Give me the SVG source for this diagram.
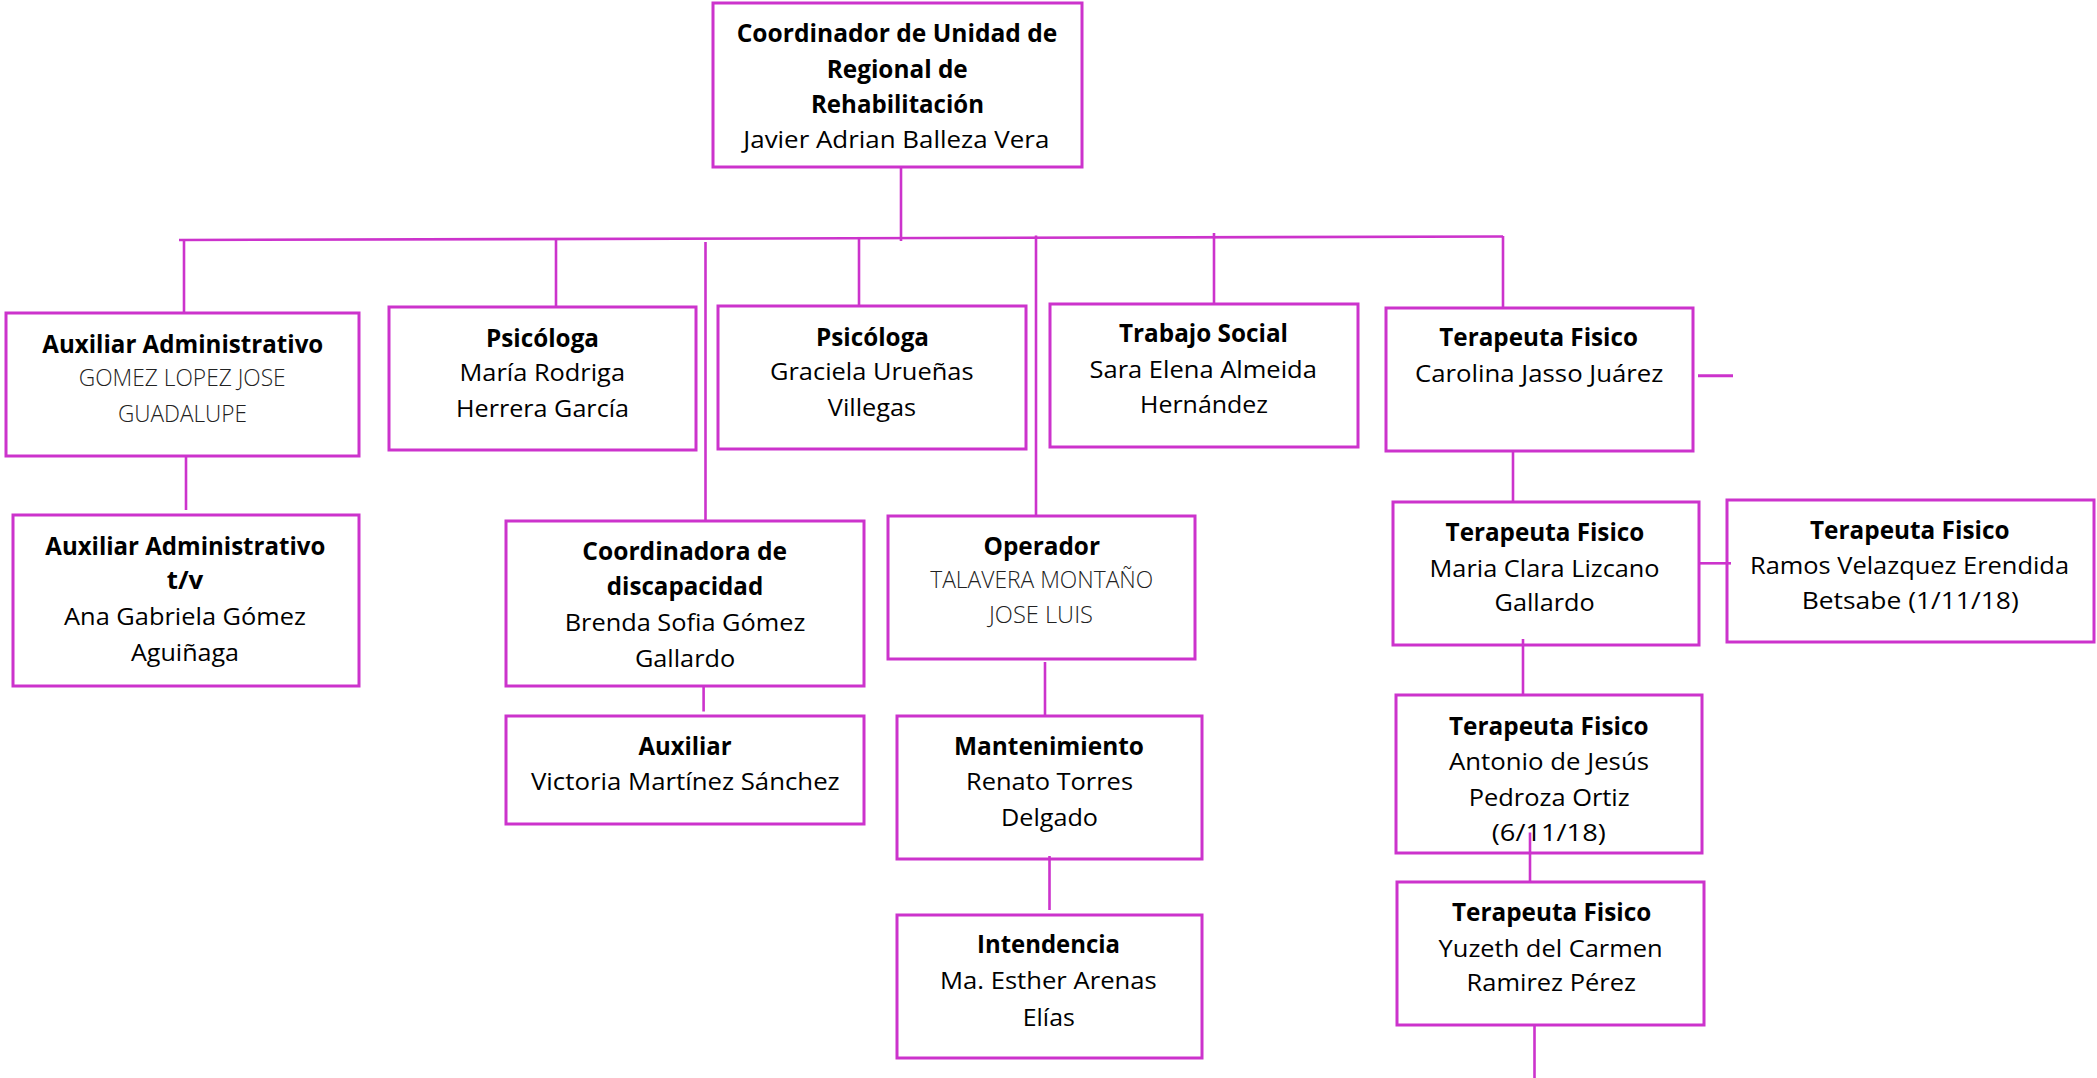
<svg xmlns="http://www.w3.org/2000/svg" width="2097" height="1078" viewBox="0 0 2097 1078">
<style>
.box{fill:#ffffff;stroke:#CC33CC;stroke-width:3}
.ln{stroke:#CC33CC;stroke-width:2.6;fill:none}
text{font-family:"Open Sans","Noto Sans","Liberation Sans",sans-serif;font-size:24.5px;fill:#000}
.b{font-weight:700}
.l{font-weight:300;fill:#222}
</style>
<rect width="2097" height="1078" fill="#ffffff"/>
<g id="coordinador">
<rect class="box" x="713" y="3" width="369" height="164"/>
<text class="b" x="736.7" y="42.3" textLength="320.7" lengthAdjust="spacingAndGlyphs">Coordinador de Unidad de</text>
<text class="b" x="826.7" y="77.5" textLength="141" lengthAdjust="spacingAndGlyphs">Regional de</text>
<text class="b" x="811" y="112.5" textLength="173" lengthAdjust="spacingAndGlyphs">Rehabilitación</text>
<text x="743.3" y="148.3" textLength="306" lengthAdjust="spacingAndGlyphs">Javier Adrian Balleza Vera</text>
</g>
<g id="aux-admin">
<rect class="box" x="6" y="313" width="353" height="143"/>
<text class="b" x="42.3" y="352.7" textLength="281" lengthAdjust="spacingAndGlyphs">Auxiliar Administrativo</text>
<text class="l" x="78.7" y="385.7" textLength="207" lengthAdjust="spacingAndGlyphs">GOMEZ LOPEZ JOSE</text>
<text class="l" x="118" y="421.7" textLength="129" lengthAdjust="spacingAndGlyphs">GUADALUPE</text>
</g>
<g id="psicologa-1">
<rect class="box" x="389" y="307" width="307" height="143"/>
<text class="b" x="486" y="346.7" textLength="113" lengthAdjust="spacingAndGlyphs">Psicóloga</text>
<text x="459.5" y="381" textLength="165.5" lengthAdjust="spacingAndGlyphs">María Rodriga</text>
<text x="456" y="416.7" textLength="173" lengthAdjust="spacingAndGlyphs">Herrera García</text>
</g>
<g id="psicologa-2">
<rect class="box" x="718" y="306" width="308" height="143"/>
<text class="b" x="816" y="346" textLength="113" lengthAdjust="spacingAndGlyphs">Psicóloga</text>
<text x="770" y="380" textLength="203.5" lengthAdjust="spacingAndGlyphs">Graciela Urueñas</text>
<text x="827.8" y="416" textLength="88.4" lengthAdjust="spacingAndGlyphs">Villegas</text>
</g>
<g id="trabajo-social">
<rect class="box" x="1050" y="304" width="308" height="143"/>
<text class="b" x="1119" y="341.7" textLength="169" lengthAdjust="spacingAndGlyphs">Trabajo Social</text>
<text x="1089.5" y="378.3" textLength="227.4" lengthAdjust="spacingAndGlyphs">Sara Elena Almeida</text>
<text x="1140" y="413.3" textLength="128" lengthAdjust="spacingAndGlyphs">Hernández</text>
</g>
<g id="terapeuta-1">
<rect class="box" x="1386" y="308" width="307" height="143"/>
<text class="b" x="1439.3" y="346" textLength="198.7" lengthAdjust="spacingAndGlyphs">Terapeuta Fisico</text>
<text x="1415" y="381.7" textLength="248.4" lengthAdjust="spacingAndGlyphs">Carolina Jasso Juárez</text>
</g>
<g id="aux-admin-tv">
<rect class="box" x="13" y="515" width="346" height="171"/>
<text class="b" x="45.3" y="555" textLength="280" lengthAdjust="spacingAndGlyphs">Auxiliar Administrativo</text>
<text class="b" x="166.7" y="589.3" textLength="36.6" lengthAdjust="spacingAndGlyphs">t/v</text>
<text x="64" y="625" textLength="242" lengthAdjust="spacingAndGlyphs">Ana Gabriela Gómez</text>
<text x="131" y="661" textLength="108" lengthAdjust="spacingAndGlyphs">Aguiñaga</text>
</g>
<g id="coordinadora">
<rect class="box" x="506" y="521" width="358" height="165"/>
<text class="b" x="582.3" y="560" textLength="204.8" lengthAdjust="spacingAndGlyphs">Coordinadora de</text>
<text class="b" x="606.8" y="595.4" textLength="156.4" lengthAdjust="spacingAndGlyphs">discapacidad</text>
<text x="564.7" y="631.4" textLength="240.6" lengthAdjust="spacingAndGlyphs">Brenda Sofia Gómez</text>
<text x="634.9" y="666.7" textLength="100.3" lengthAdjust="spacingAndGlyphs">Gallardo</text>
</g>
<g id="auxiliar">
<rect class="box" x="506" y="716" width="358" height="108"/>
<text class="b" x="638.4" y="755.2" textLength="93.3" lengthAdjust="spacingAndGlyphs">Auxiliar</text>
<text x="531" y="790.4" textLength="308.7" lengthAdjust="spacingAndGlyphs">Victoria Martínez Sánchez</text>
</g>
<g id="operador">
<rect class="box" x="888" y="516" width="307" height="143"/>
<text class="b" x="983.5" y="555" textLength="116.5" lengthAdjust="spacingAndGlyphs">Operador</text>
<text class="l" x="930.2" y="588.2" textLength="223" lengthAdjust="spacingAndGlyphs">TALAVERA MONTAÑO</text>
<text class="l" x="989" y="623.4" textLength="104" lengthAdjust="spacingAndGlyphs">JOSE LUIS</text>
</g>
<g id="mantenimiento">
<rect class="box" x="897" y="716" width="305" height="143"/>
<text class="b" x="954" y="755.2" textLength="190" lengthAdjust="spacingAndGlyphs">Mantenimiento</text>
<text x="966" y="790.4" textLength="167" lengthAdjust="spacingAndGlyphs">Renato Torres</text>
<text x="1001" y="826.4" textLength="97" lengthAdjust="spacingAndGlyphs">Delgado</text>
</g>
<g id="intendencia">
<rect class="box" x="897" y="915" width="305" height="143"/>
<text class="b" x="977" y="953.4" textLength="143" lengthAdjust="spacingAndGlyphs">Intendencia</text>
<text x="940" y="988.6" textLength="216.7" lengthAdjust="spacingAndGlyphs">Ma. Esther Arenas</text>
<text x="1022.8" y="1025.5" textLength="52" lengthAdjust="spacingAndGlyphs">Elías</text>
</g>
<g id="terapeuta-maria">
<rect class="box" x="1393" y="502" width="306" height="143"/>
<text class="b" x="1445.6" y="541.3" textLength="198.7" lengthAdjust="spacingAndGlyphs">Terapeuta Fisico</text>
<text x="1429.6" y="577" textLength="230" lengthAdjust="spacingAndGlyphs">Maria Clara Lizcano</text>
<text x="1494.6" y="611.4" textLength="100" lengthAdjust="spacingAndGlyphs">Gallardo</text>
</g>
<g id="terapeuta-ramos">
<rect class="box" x="1727" y="500" width="367" height="142"/>
<text class="b" x="1810" y="538.9" textLength="199.5" lengthAdjust="spacingAndGlyphs">Terapeuta Fisico</text>
<text x="1750" y="574" textLength="319" lengthAdjust="spacingAndGlyphs">Ramos Velazquez Erendida</text>
<text x="1801.7" y="609" textLength="217" lengthAdjust="spacingAndGlyphs">Betsabe (1/11/18)</text>
</g>
<g id="terapeuta-antonio">
<rect class="box" x="1396" y="695" width="306" height="158"/>
<text class="b" x="1449" y="735.1" textLength="199.5" lengthAdjust="spacingAndGlyphs">Terapeuta Fisico</text>
<text x="1449" y="770.4" textLength="200" lengthAdjust="spacingAndGlyphs">Antonio de Jesús</text>
<text x="1468.7" y="805.6" textLength="161" lengthAdjust="spacingAndGlyphs">Pedroza Ortiz</text>
<text x="1491.8" y="840.5" textLength="114" lengthAdjust="spacingAndGlyphs">(6/11/18)</text>
</g>
<g id="terapeuta-yuzeth">
<rect class="box" x="1397" y="882" width="307" height="143"/>
<text class="b" x="1452" y="921.4" textLength="199.3" lengthAdjust="spacingAndGlyphs">Terapeuta Fisico</text>
<text x="1438.6" y="956.6" textLength="224" lengthAdjust="spacingAndGlyphs">Yuzeth del Carmen</text>
<text x="1466.6" y="991.4" textLength="169.3" lengthAdjust="spacingAndGlyphs">Ramirez Pérez</text>
</g>
<g id="connectors">
<line class="ln" x1="901" y1="167" x2="901" y2="241"/>
<line class="ln" x1="179" y1="240" x2="1503" y2="236.5"/>
<line class="ln" x1="184" y1="241" x2="184" y2="313"/>
<line class="ln" x1="556" y1="240" x2="556" y2="307"/>
<line class="ln" x1="705.5" y1="242" x2="705.5" y2="521"/>
<line class="ln" x1="859" y1="239" x2="859" y2="306"/>
<line class="ln" x1="1036" y1="235.5" x2="1036" y2="516"/>
<line class="ln" x1="1214" y1="233" x2="1214" y2="304"/>
<line class="ln" x1="1503" y1="236" x2="1503" y2="308"/>
<line class="ln" x1="1698" y1="375.7" x2="1733" y2="375.7" style="stroke-width:3"/>
<line class="ln" x1="186" y1="456" x2="186" y2="510"/>
<line class="ln" x1="703.6" y1="686" x2="703.6" y2="711.5"/>
<line class="ln" x1="1045" y1="662" x2="1045" y2="715"/>
<line class="ln" x1="1049.5" y1="856" x2="1049.5" y2="910"/>
<line class="ln" x1="1513" y1="451" x2="1513" y2="502"/>
<line class="ln" x1="1699" y1="563.3" x2="1731" y2="563.3"/>
<line class="ln" x1="1523" y1="639" x2="1523" y2="694"/>
<line class="ln" x1="1530" y1="832.5" x2="1530" y2="882"/>
<line class="ln" x1="1534.5" y1="1025" x2="1534.5" y2="1078"/>
</g>
</svg>
